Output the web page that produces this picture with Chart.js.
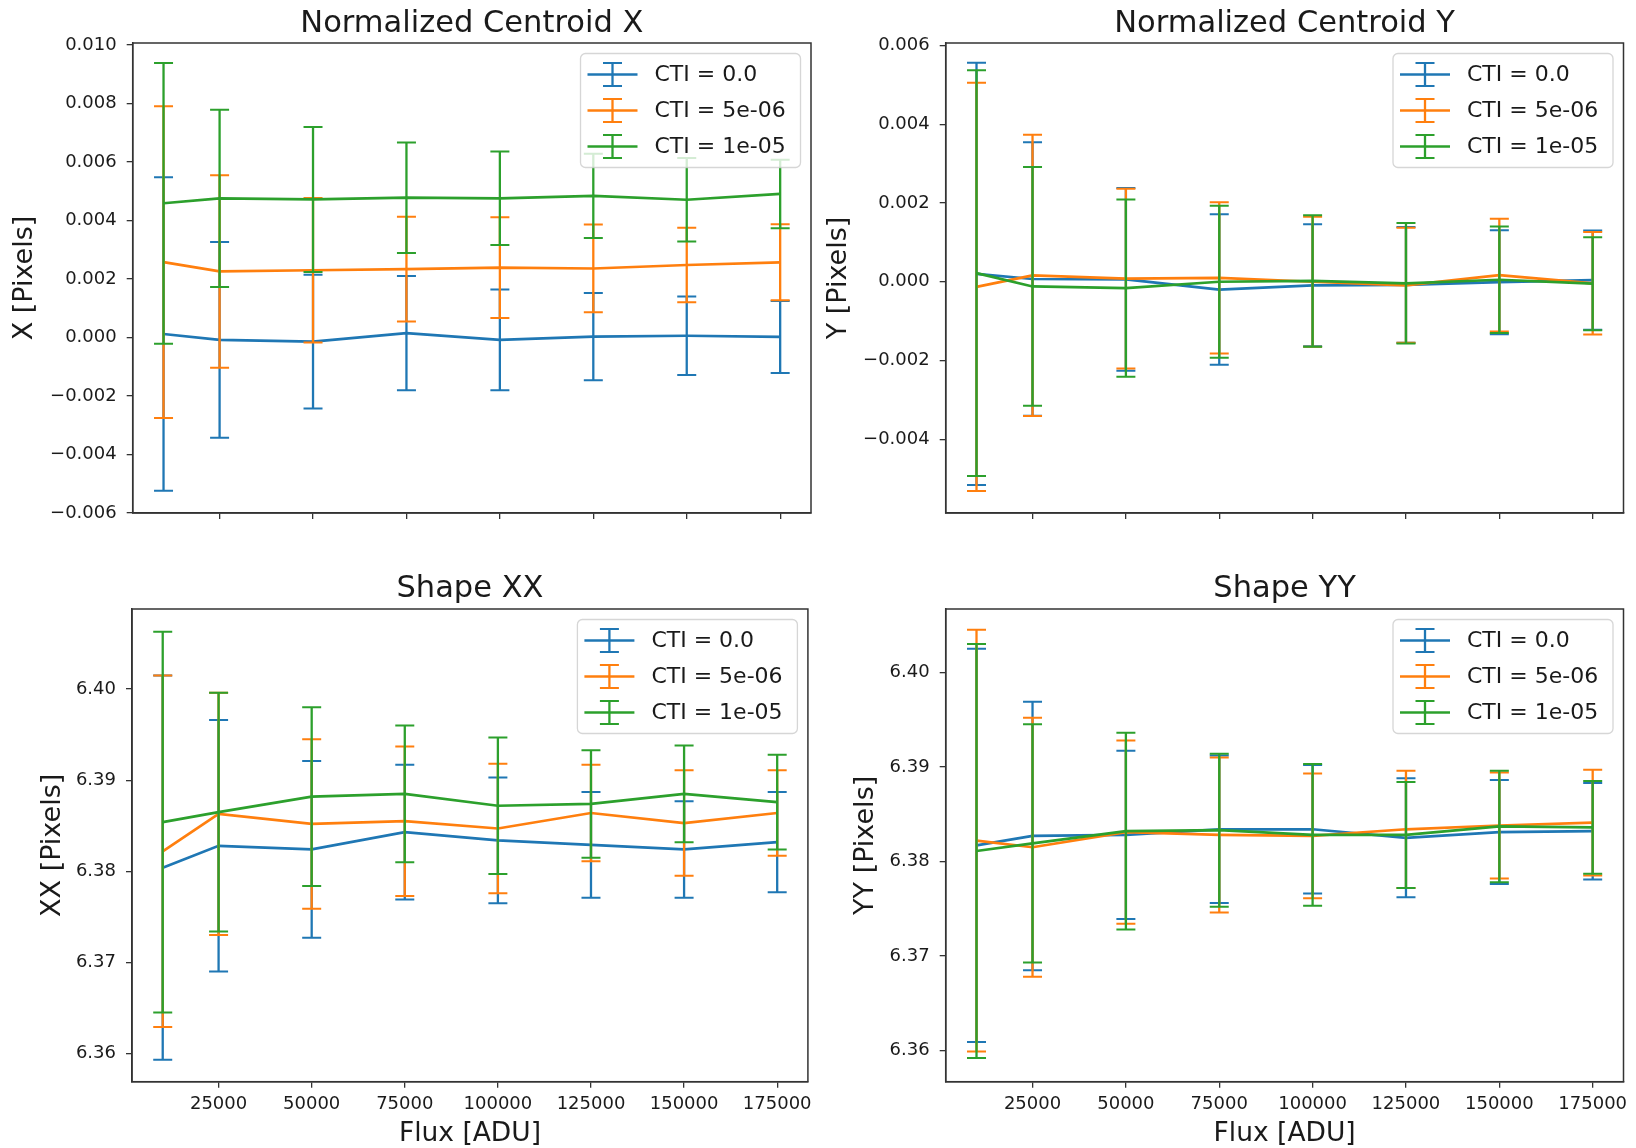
<!DOCTYPE html>
<html>
<head>
<meta charset="utf-8">
<title>CTI: centroid and shape vs flux</title>
<script src="https://cdn.jsdelivr.net/npm/chart.js@4.4.1/dist/chart.umd.min.js"></script>
<style>
  html, body { margin: 0; padding: 0; background: #fff; }
  body { position: relative; width: 1636px; height: 1148px; overflow: hidden; }
  canvas { position: absolute; }
</style>
</head>
<body>
<canvas id="cx" width="818" height="560" style="left:0;top:0"></canvas>
<canvas id="cy" width="818" height="560" style="left:818px;top:0"></canvas>
<canvas id="xx" width="818" height="588" style="left:0;top:560px"></canvas>
<canvas id="yy" width="818" height="588" style="left:818px;top:560px"></canvas>
<script>
const flux = [10000, 25000, 50000, 75000, 100000, 125000, 150000, 175000];
const fluxTicks = [25000, 50000, 75000, 100000, 125000, 150000, 175000];
const ctiLabels = ['CTI = 0.0', 'CTI = 5e-06', 'CTI = 1e-05'];

// one row per CTI value, errors are symmetric (1 sigma)
const cxVal = [
  [0.00012, -0.00008, -0.00014, 0.00015, -0.00008, 0.00003, 0.00006, 0.00002],
  [0.00258, 0.00226, 0.00230, 0.00234, 0.00239, 0.00236, 0.00248, 0.00257],
  [0.00459, 0.00476, 0.00472, 0.00478, 0.00476, 0.00484, 0.00471, 0.00491]
];
const cxErr = [
  [0.00536, 0.00335, 0.00229, 0.00195, 0.00172, 0.00149, 0.00134, 0.00123],
  [0.00533, 0.00329, 0.00247, 0.00179, 0.00172, 0.00150, 0.00127, 0.00130],
  [0.00480, 0.00303, 0.00248, 0.00189, 0.00160, 0.00144, 0.00143, 0.00117]
];
const cxTicks = [-0.006, -0.004, -0.002, 0, 0.002, 0.004, 0.006, 0.008, 0.010];

const cyVal = [
  [0.00020, 0.00007, 0.00006, -0.00020, -0.00009, -0.00008, -0.00001, 0.00004],
  [-0.00013, 0.00016, 0.00008, 0.00010, 0.00000, -0.00009, 0.00017, -0.00004],
  [0.00022, -0.00012, -0.00016, 0.00000, 0.00002, -0.00004, 0.00005, -0.00005]
];
const cyErr = [
  [0.00536, 0.00347, 0.00232, 0.00191, 0.00155, 0.00147, 0.00132, 0.00126],
  [0.00518, 0.00357, 0.00228, 0.00192, 0.00165, 0.00146, 0.00143, 0.00130],
  [0.00515, 0.00303, 0.00225, 0.00193, 0.00167, 0.00153, 0.00135, 0.00118]
];
const cyTicks = [-0.004, -0.002, 0, 0.002, 0.004, 0.006];

const xxVal = [
  [6.3804, 6.3828, 6.3824, 6.3843, 6.3834, 6.3829, 6.3824, 6.3832],
  [6.3822, 6.3863, 6.3852, 6.3855, 6.3847, 6.3864, 6.3853, 6.3864],
  [6.3854, 6.3865, 6.3882, 6.3885, 6.3872, 6.3874, 6.3885, 6.3876]
];
const xxErr = [
  [0.0211, 0.0138, 0.0097, 0.0074, 0.0069, 0.0058, 0.0053, 0.0055],
  [0.0193, 0.0133, 0.0093, 0.0082, 0.0071, 0.0053, 0.0058, 0.0047],
  [0.0209, 0.0131, 0.0098, 0.0075, 0.0075, 0.0059, 0.0053, 0.0052]
];
const xxTicks = [6.36, 6.37, 6.38, 6.39, 6.40];

const yyVal = [
  [6.3817, 6.3827, 6.3828, 6.3834, 6.3834, 6.3825, 6.3831, 6.3832],
  [6.3822, 6.3815, 6.3831, 6.3828, 6.3827, 6.3834, 6.3838, 6.3841],
  [6.3811, 6.3819, 6.3832, 6.3833, 6.3828, 6.3828, 6.3837, 6.3836]
];
const yyErr = [
  [0.0208, 0.0142, 0.0089, 0.0078, 0.0068, 0.0063, 0.0055, 0.0051],
  [0.0223, 0.0137, 0.0097, 0.0082, 0.0066, 0.0062, 0.0056, 0.0056],
  [0.0219, 0.0126, 0.0104, 0.0081, 0.0075, 0.0056, 0.0059, 0.0049]
];
const yyTicks = [6.36, 6.37, 6.38, 6.39, 6.40];

const colors = ['#1f77b4', '#ff7f0e', '#2ca02c'];
const ink = '#1a1a1a';
const spine = '#333';

Chart.defaults.font.family = '"DejaVu Sans", sans-serif';
Chart.defaults.color = ink;

// error bars go under each series' own line, like matplotlib's errorbar
const errorBars = {
  id: 'errorBars',
  beforeDatasetDraw(chart, args) {
    const ds = chart.data.datasets[args.index];
    const xs = chart.scales.x, ys = chart.scales.y, ctx = chart.ctx;
    ctx.save();
    ctx.strokeStyle = ds.borderColor;
    ds.data.forEach((p, i) => {
      const e = ds.errors[i];
      const px = xs.getPixelForValue(p.x);
      const top = ys.getPixelForValue(p.y + e);
      const bot = ys.getPixelForValue(p.y - e);
      ctx.lineWidth = 2.3;
      ctx.beginPath();
      ctx.moveTo(px, top); ctx.lineTo(px, bot);
      ctx.stroke();
      ctx.lineWidth = 2;
      ctx.beginPath();
      ctx.moveTo(px - 9.5, top); ctx.lineTo(px + 9.5, top);
      ctx.moveTo(px - 9.5, bot); ctx.lineTo(px + 9.5, bot);
      ctx.stroke();
    });
    ctx.restore();
  }
};

// closed axes box and the framed legend in the upper right
const frameAndLegend = {
  id: 'frameAndLegend',
  afterDatasetsDraw(chart) {
    const { ctx, chartArea: a } = chart;
    ctx.save();
    ctx.strokeStyle = spine;
    ctx.lineWidth = 1.5;
    ctx.strokeRect(a.left, a.top, a.right - a.left, a.bottom - a.top);

    const w = 220, h = 114;
    const bx = a.right - 10.5 - w, by = a.top + 10.5;
    ctx.beginPath();
    ctx.roundRect(bx, by, w, h, 5);
    ctx.fillStyle = 'rgba(255,255,255,0.8)';
    ctx.fill();
    ctx.strokeStyle = 'rgba(204,204,204,0.8)';
    ctx.lineWidth = 1.3;
    ctx.stroke();

    ctx.font = '22px "DejaVu Sans"';
    ctx.textBaseline = 'middle';
    ctx.textAlign = 'left';
    chart.data.datasets.forEach((ds, i) => {
      const y = by + 21 + i * 36, hx = bx + 7, mx = bx + 32;
      ctx.strokeStyle = ds.borderColor;
      ctx.lineWidth = 2.7;
      ctx.beginPath();
      ctx.moveTo(hx, y); ctx.lineTo(hx + 50, y);
      ctx.stroke();
      ctx.lineWidth = 2.3;
      ctx.beginPath();
      ctx.moveTo(mx, y - 11.5); ctx.lineTo(mx, y + 11.5);
      ctx.stroke();
      ctx.lineWidth = 2;
      ctx.beginPath();
      ctx.moveTo(mx - 9.5, y - 11.5); ctx.lineTo(mx + 9.5, y - 11.5);
      ctx.moveTo(mx - 9.5, y + 11.5); ctx.lineTo(mx + 9.5, y + 11.5);
      ctx.stroke();
      ctx.fillStyle = ink;
      ctx.fillText(ds.label, bx + 74, y + 1);
    });
    ctx.restore();
  }
};

const fmt = (v, dec) => v.toFixed(dec).replace('-', '\u2212');

function makePanel(p) {
  const datasets = p.vals.map((row, k) => ({
    label: ctiLabels[k],
    data: flux.map((x, i) => ({ x: x, y: row[i] })),
    errors: p.errs[k],
    borderColor: colors[k],
    backgroundColor: colors[k],
    borderWidth: 2.7,
    pointRadius: 0,
    tension: 0,
    fill: false,
    order: 2 - k
  }));

  new Chart(document.getElementById(p.id), {
    type: 'line',
    data: { datasets: datasets },
    plugins: [errorBars, frameAndLegend],
    options: {
      responsive: false,
      animation: false,
      events: [],
      devicePixelRatio: 1,
      layout: { padding: { left: 0, right: p.padRight, top: 0, bottom: 0 } },
      plugins: {
        legend: { display: false },
        tooltip: { enabled: false },
        title: {
          display: true,
          fullSize: false,
          text: p.title,
          color: ink,
          font: { size: 30.5, weight: 'normal' },
          padding: { top: p.titleTop, bottom: p.titleBottom }
        }
      },
      scales: {
        x: {
          type: 'linear',
          min: 1750,
          max: 183250,
          afterFit: s => { s.height = p.xHeight; },
          afterBuildTicks: s => { s.ticks = fluxTicks.map(v => ({ value: v })); },
          ticks: {
            display: p.showX,
            autoSkip: false,
            maxRotation: 0,
            padding: 6,
            color: ink,
            font: { size: 18 },
            callback: v => String(v)
          },
          grid: { drawOnChartArea: false, drawTicks: true, tickLength: 6, color: spine, lineWidth: 1.3 },
          border: { display: true, color: spine, width: 1.5 },
          title: {
            display: p.showX,
            text: 'Flux [ADU]',
            color: ink,
            font: { size: 26.5, lineHeight: 1.05 },
            padding: { top: 0, bottom: 0 }
          }
        },
        y: {
          type: 'linear',
          min: p.yMin,
          max: p.yMax,
          afterFit: s => { s.width = p.yWidth; },
          afterBuildTicks: s => { s.ticks = p.yTicks.map(v => ({ value: v })); },
          ticks: {
            autoSkip: false,
            padding: 10,
            color: ink,
            font: { size: 18 },
            callback: v => fmt(v, p.dec)
          },
          grid: { drawOnChartArea: false, drawTicks: true, tickLength: 6, color: spine, lineWidth: 1.3 },
          border: { display: true, color: spine, width: 1.5 },
          title: {
            display: true,
            text: p.yTitle,
            color: ink,
            font: { size: 27 },
            padding: { top: p.yTitlePad, bottom: 0 }
          }
        }
      }
    }
  });
}

makePanel({ id: 'cx', title: 'Normalized Centroid X', yTitle: 'X [Pixels]', vals: cxVal, errs: cxErr,
  yTicks: cxTicks, yMin: -0.0060, yMax: 0.01007, dec: 3, showX: false,
  yWidth: 132.7, padRight: 7, xHeight: 47, titleTop: 5.3, titleBottom: 1.1, yTitlePad: 9 });
makePanel({ id: 'cy', title: 'Normalized Centroid Y', yTitle: 'Y [Pixels]', vals: cyVal, errs: cyErr,
  yTicks: cyTicks, yMin: -0.00587, yMax: 0.00606, dec: 3, showX: false,
  yWidth: 127.7, padRight: 12.5, xHeight: 47, titleTop: 5.3, titleBottom: 1.1, yTitlePad: 5 });
makePanel({ id: 'xx', title: 'Shape XX', yTitle: 'XX [Pixels]', vals: xxVal, errs: xxErr,
  yTicks: xxTicks, yMin: 6.3569, yMax: 6.4088, dec: 2, showX: true,
  yWidth: 132, padRight: 7, xHeight: 66.3, titleTop: 11.2, titleBottom: 1.2, yTitlePad: 37 });
makePanel({ id: 'yy', title: 'Shape YY', yTitle: 'YY [Pixels]', vals: yyVal, errs: yyErr,
  yTicks: yyTicks, yMin: 6.3567, yMax: 6.4067, dec: 2, showX: true,
  yWidth: 127.7, padRight: 12.5, xHeight: 66.3, titleTop: 11.2, titleBottom: 1.2, yTitlePad: 32 });
</script>
</body>
</html>
